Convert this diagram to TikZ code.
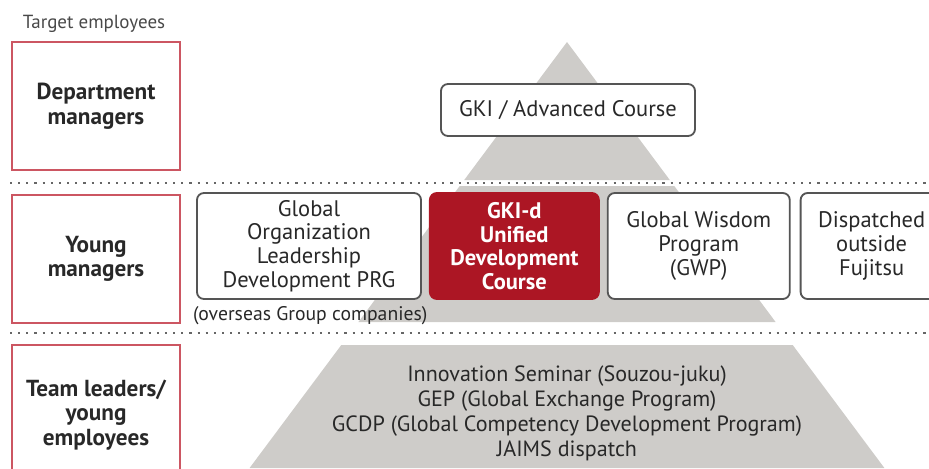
\documentclass[tikz,border=0pt]{standalone}
\usepackage{fontspec}
\setmainfont{PT Sans}
\usetikzlibrary{positioning}

\definecolor{pyrgray}{RGB}{206,204,201}
\definecolor{levelred}{RGB}{204,86,98}
\definecolor{coursered}{RGB}{172,22,36}
\definecolor{boxline}{RGB}{85,85,85}
\definecolor{textgray}{RGB}{40,40,40}

\tikzset{
  level/.style={draw=levelred, line width=1.4pt, minimum width=4.2cm, minimum height=3.2cm,
    align=center, text=textgray, font=\fontsize{16.5}{17.5}\selectfont\bfseries},
  course/.style={draw=boxline, fill=white, line width=1.3pt, rounded corners=5pt, minimum height=2.65cm,
    align=center, text=textgray, font=\fontsize{16}{16.8}\selectfont, inner sep=2pt},
  sep/.style={draw=gray!80!black, line width=1.5pt, dash pattern=on 1.5pt off 4.3pt},
}

\begin{document}
\begin{tikzpicture}[x=0.025cm, y=-0.025cm]
  \useasboundingbox (0,0) rectangle (929,468);
  \clip (0,0) rectangle (929,468);

  % pyramid, cut in three bands
  \fill[pyrgray] (567,42) -- (669.8,180) -- (464.2,180) -- cycle;
  \fill[pyrgray] (459.7,186) -- (674.3,186) -- (775.6,322) -- (358.4,322) -- cycle;
  \fill[pyrgray] (341.3,345) -- (792.7,345) -- (884.4,468) -- (249.6,468) -- cycle;

  % separators
  \draw[sep] (10,183) -- (929,183);
  \draw[sep] (10,333) -- (929,333);

  \node[text=textgray!85, font=\fontsize{13.5}{15}\selectfont] (target) at (94,24) {Target employees};

  % target employees
  \node[level] (dept) at (96,106) {Department\\managers};
  \node[level] (young) at (96,259) {Young\\managers};
  \node[level, minimum height=3.5cm] (team) at (96,415) {Team leaders/\\young\\employees};

  % department managers
  \node[course, minimum width=6.35cm, minimum height=1.3cm] (gki) at (568,110) {GKI / Advanced Course};

  % young managers
  \node[course, minimum width=5.6cm] (gold) at (309,246) {Global\\Organization\\Leadership\\Development PRG};
  \node[course, minimum width=4.225cm, draw=coursered, fill=coursered, text=white,
    font=\fontsize{16}{16.8}\selectfont\bfseries, right=0.175cm of gold] (gkid) {GKI-d\\Unified\\Development\\Course};
  \node[course, minimum width=4.55cm, right=0.175cm of gkid] (gwp) {Global Wisdom\\Program\\(GWP)};
  \node[course, minimum width=3.55cm, right=0.225cm of gwp] (outside) {Dispatched\\outside\\Fujitsu};
  \node[text=textgray, font=\fontsize{14}{15}\selectfont, below right=0.05cm and -0.2cm of gold.south west] (overseas) {(overseas Group companies)};

  % team leaders / young employees
  \node[align=center, text=textgray, font=\fontsize{15.7}{17.8}\selectfont] (basic) at (567,413)
    {Innovation Seminar (Souzou-juku)\\GEP (Global Exchange Program)\\GCDP (Global Competency Development Program)\\JAIMS dispatch};
\end{tikzpicture}
\end{document}
